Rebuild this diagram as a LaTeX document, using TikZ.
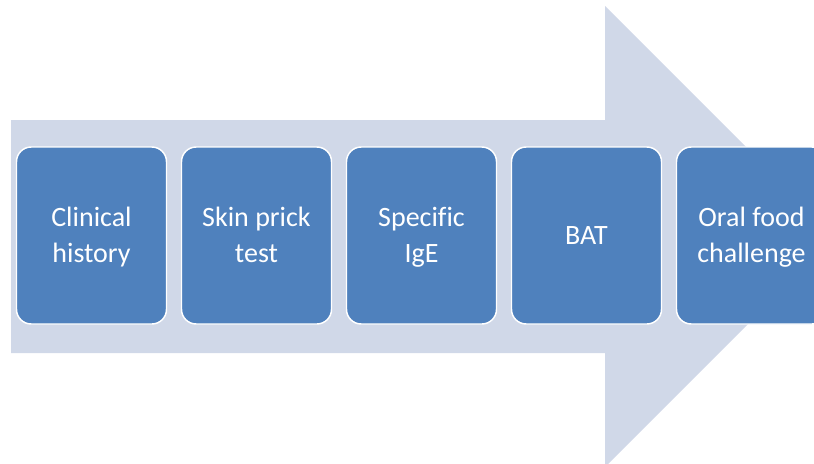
\documentclass[tikz,border=0pt]{standalone}
\usepackage{fontspec}
\setmainfont{Carlito}[Ligatures=NoCommon]
\definecolor{arrowbg}{HTML}{D0D8E8}
\definecolor{boxfill}{HTML}{4F81BD}
\newcommand{\lnstrut}{\rule[-7.1pt]{0pt}{27pt}}
\tikzset{stagebox/.style={draw=white,line width=1.1pt,fill=boxfill,rounded corners=11pt,
    minimum width=112.5pt,minimum height=132.75pt,align=center,text=white,
    font=\fontsize{21pt}{27pt}\selectfont}}

\begin{document}
\begin{tikzpicture}[x=0.75pt,y=-0.75pt]
	    \useasboundingbox (0,0) rectangle (814,464);
	    \clip (0,0) rectangle (814,464);
	    \fill[arrowbg] (11,120) -- (605,120) -- (605,6) -- (835.5,236.5) -- (605,467) -- (605,353) -- (11,353) -- cycle;
	    \foreach \lbl [count=\i] in {{Clinical\lnstrut\\history\lnstrut},{Skin prick\lnstrut\\test\lnstrut},{Specific\lnstrut\\IgE\lnstrut},{BAT\lnstrut},{Oral food\lnstrut\\challenge\lnstrut}}
		\node[stagebox] (stage\i) at ({91.5+165*(\i-1)},235.5) {\lbl};
        \end{tikzpicture}
\end{document}
